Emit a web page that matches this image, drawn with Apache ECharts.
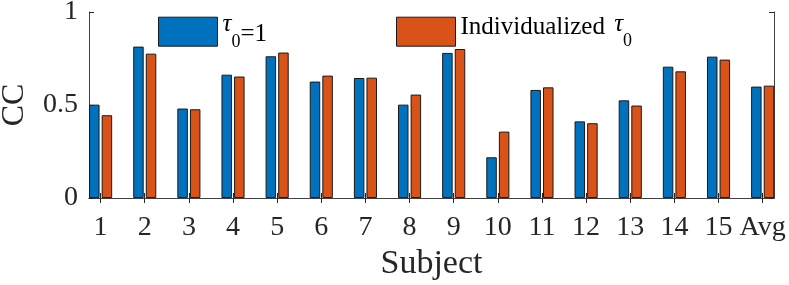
<!DOCTYPE html>
<html><head><meta charset="utf-8">
<script src="https://cdn.jsdelivr.net/npm/echarts@6/dist/echarts.min.js"></script>
<style>html,body{margin:0;padding:0;background:#fff}#c{width:789px;height:285px}</style>
</head><body><div id="c"></div>
<script>
const categories = ['1','2','3','4','5','6','7','8','9','10','11','12','13','14','15','Avg'];
const tau1 = [0.502,0.814,0.481,0.663,0.762,0.626,0.645,0.502,0.780,0.219,0.581,0.412,0.525,0.706,0.760,0.599];
const individualized = [0.445,0.776,0.477,0.653,0.782,0.658,0.647,0.556,0.801,0.357,0.595,0.402,0.497,0.681,0.744,0.604];
const yTicks = [0, 0.5, 1];

const FONT = 'Liberation Serif';
const AX = '#404040';
const TXT = '#262626';
const xPos = categories.map((c, i) => i + 1);
const toPairs = arr => arr.map((v, i) => [xPos[i], v]);

const chart = echarts.init(document.getElementById('c'), null, {renderer: 'canvas'});
const xCommon = {
  type: 'value', min: 0.737, max: 16.257,
  axisLine: {show: true, lineStyle: {color: AX, width: 1}},
  axisTick: {show: true, inside: true, length: 5, customValues: xPos, lineStyle: {color: TXT, width: 1}},
  splitLine: {show: false}
};
const yCommon = {
  type: 'value', min: yTicks[0], max: yTicks[yTicks.length - 1], interval: 0.5,
  axisLine: {show: true, lineStyle: {color: AX, width: 1}},
  axisTick: {show: true, inside: true, length: 5, customValues: yTicks, lineStyle: {color: TXT, width: 1}},
  splitLine: {show: false}
};
chart.setOption({
  animation: false,
  backgroundColor: '#fff',
  grid: {left: 89, right: 15, top: 12, height: 186, containLabel: false, outerBoundsMode: 'none'},
  xAxis: [
    Object.assign({}, xCommon, {
      position: 'bottom',
      axisLabel: {customValues: xPos, formatter: v => categories[Math.round(v) - 1], fontFamily: FONT, fontSize: 28, color: TXT, margin: 16},
      name: 'Subject', nameLocation: 'middle', nameGap: 49, nameMoveOverlap: false,
      nameTextStyle: {fontFamily: FONT, fontSize: 34, color: TXT}
    }),
    Object.assign({}, xCommon, {position: 'top', axisLabel: {show: false}})
  ],
  yAxis: [
    Object.assign({}, yCommon, {
      position: 'left',
      axisLabel: {customValues: yTicks, fontFamily: FONT, fontSize: 28, color: TXT, margin: 11},
      name: 'CC', nameLocation: 'middle', nameGap: 58, nameMoveOverlap: false,
      nameTextStyle: {fontFamily: FONT, fontSize: 32, color: TXT}
    }),
    Object.assign({}, yCommon, {position: 'right', axisLabel: {show: false}})
  ],
  legend: [
    {
      data: ['tau1'], left: 158, top: 12, padding: 0, itemWidth: 59, itemHeight: 29, icon: 'rect',
      itemStyle: {borderColor: '#1a1a1a', borderWidth: 1},
      formatter: () => '{t|τ}{s|0}{n|=1}',
      textStyle: {fontFamily: FONT, color: '#000', rich: {
        t: {fontFamily: FONT, fontStyle: 'italic', fontSize: 25, lineHeight: 4, padding: [0, 0, 14.4, 0]},
        s: {fontFamily: FONT, fontSize: 18, lineHeight: 4, padding: [20.2, 0, 0, 0]},
        n: {fontFamily: FONT, fontSize: 25, lineHeight: 4, padding: [5.6, 0, 0, 0]}
      }}
    },
    {
      data: ['indiv'], left: 396, top: 12, padding: 0, itemWidth: 59, itemHeight: 29, icon: 'rect',
      itemStyle: {borderColor: '#1a1a1a', borderWidth: 1},
      formatter: () => '{a|Individualized }{t|τ}{s|0}',
      textStyle: {fontFamily: FONT, color: '#000', rich: {
        a: {fontFamily: FONT, fontSize: 25, lineHeight: 4, padding: [0, 0, 9.2, 0]},
        t: {fontFamily: FONT, fontStyle: 'italic', fontSize: 25, lineHeight: 4, padding: [0, 0, 14.4, 3]},
        s: {fontFamily: FONT, fontSize: 18, lineHeight: 4, padding: [18.2, 0, 0, 0]}
      }}
    }
  ],
  series: [
    {type: 'bar', name: 'tau1', data: toPairs(tau1), barWidth: 10.5, barGap: '20%',
     itemStyle: {color: '#0072BD', borderColor: '#1a1a1a', borderWidth: 1}},
    {type: 'bar', name: 'indiv', data: toPairs(individualized), barWidth: 10.5, barGap: '20%',
     itemStyle: {color: '#D95319', borderColor: '#1a1a1a', borderWidth: 1}}
  ]
});
</script></body></html>
